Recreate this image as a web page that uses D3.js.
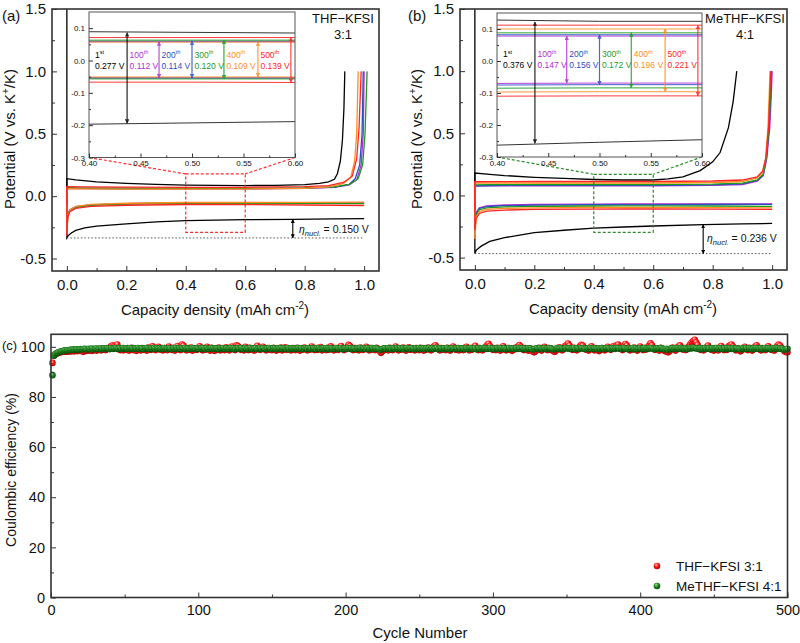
<!DOCTYPE html>
<html><head><meta charset="utf-8">
<script src="https://cdn.jsdelivr.net/npm/d3@7"></script>
<style>
body{margin:0;background:#fff;}
svg text{font-family:Arial,"Liberation Sans",sans-serif;fill:#111;}
</style></head><body>
<svg id="chart" width="800" height="643"></svg>
<script>
// ---------------- DATA ----------------
const cycleNames = ["1","100","200","300","400","500"];
const cycleSuffix = ["st","th","th","th","th","th"];
const cycleColors = ["#000000","#b52bd3","#2a4fc4","#1c9b1c","#ff8c1f","#ff2424"];

const capTicks = [0,0.2,0.4,0.6,0.8,1.0];
const capMinor = [0.1,0.3,0.5,0.7,0.9];
const potTicks = [-0.5,0,0.5,1.0,1.5];
const potMinor = [-0.25,0.25,0.75,1.25];
const insetXTicks = [0.40,0.45,0.50,0.55,0.60];
const insetXMinor = [0.425,0.475,0.525,0.575];
const insetYTicks = [-0.3,-0.2,-0.1,0.0,0.1];
const insetYMinor = [-0.25,-0.15,-0.05,0.05];

// panel (a) THF-KFSI 3:1 : charge (stripping, upper) and discharge (plating, lower) curves
const aCharge = [
 [[0,-0.18],[0,0.14],[0.03,0.13],[0.1,0.115],[0.2,0.102],[0.3,0.094],[0.4,0.089],[0.5,0.087],[0.6,0.085],[0.7,0.086],[0.8,0.092],[0.85,0.102],[0.88,0.115],[0.9,0.135],[0.91,0.18],[0.92,0.28],[0.927,0.45],[0.932,0.7],[0.935,1.0]],
 [[0,-0.05],[0,0.062],[0.05,0.06],[0.2,0.059],[0.4,0.058],[0.5,0.058],[0.6,0.058],[0.8,0.062],[0.9,0.07],[0.95,0.09],[0.975,0.13],[0.99,0.25],[0.997,0.5],[1.0,1.0]],
 [[0,-0.05],[0,0.064],[0.05,0.062],[0.2,0.061],[0.4,0.06],[0.5,0.06],[0.6,0.06],[0.8,0.064],[0.9,0.072],[0.95,0.095],[0.97,0.14],[0.985,0.25],[0.993,0.5],[0.997,1.0]],
 [[0,-0.05],[0,0.067],[0.05,0.065],[0.2,0.064],[0.4,0.063],[0.5,0.063],[0.6,0.063],[0.8,0.067],[0.9,0.075],[0.95,0.095],[0.98,0.14],[0.995,0.25],[1.003,0.5],[1.01,1.0]],
 [[0,-0.05],[0,0.06],[0.05,0.058],[0.2,0.057],[0.4,0.057],[0.5,0.057],[0.6,0.057],[0.8,0.062],[0.88,0.075],[0.93,0.1],[0.955,0.15],[0.968,0.28],[0.975,0.5],[0.98,1.0]],
 [[0,-0.06],[0,0.076],[0.05,0.074],[0.2,0.072],[0.4,0.071],[0.5,0.071],[0.6,0.071],[0.8,0.076],[0.88,0.085],[0.93,0.11],[0.96,0.16],[0.975,0.3],[0.983,0.55],[0.99,1.0]]
];
const aDischarge = [
 [[0,1.5],[0,-0.335],[0.005,-0.315],[0.015,-0.295],[0.03,-0.275],[0.06,-0.255],[0.1,-0.24],[0.2,-0.222],[0.3,-0.207],[0.4,-0.197],[0.5,-0.193],[0.6,-0.189],[0.76,-0.186],[0.9,-0.183],[1.0,-0.181]],
 [[0,0.062],[0,-0.25],[0.003,-0.15],[0.01,-0.11],[0.03,-0.085],[0.08,-0.07],[0.2,-0.06],[0.4,-0.054],[0.5,-0.054],[0.6,-0.054],[0.8,-0.054],[1.0,-0.055]],
 [[0,0.064],[0,-0.22],[0.003,-0.15],[0.01,-0.11],[0.03,-0.086],[0.08,-0.07],[0.2,-0.06],[0.4,-0.054],[0.5,-0.054],[0.6,-0.054],[0.8,-0.055],[1.0,-0.056]],
 [[0,0.067],[0,-0.28],[0.003,-0.16],[0.01,-0.115],[0.03,-0.09],[0.08,-0.073],[0.2,-0.063],[0.4,-0.057],[0.5,-0.057],[0.6,-0.057],[0.8,-0.058],[1.0,-0.06]],
 [[0,0.06],[0,-0.3],[0.003,-0.16],[0.01,-0.11],[0.03,-0.082],[0.08,-0.066],[0.2,-0.057],[0.4,-0.051],[0.5,-0.051],[0.6,-0.051],[0.8,-0.05],[1.0,-0.048]],
 [[0,0.076],[0,-0.32],[0.003,-0.17],[0.01,-0.125],[0.03,-0.098],[0.08,-0.082],[0.2,-0.073],[0.4,-0.067],[0.5,-0.067],[0.6,-0.068],[0.8,-0.071],[1.0,-0.075]]
];
// panel (b) MeTHF-KFSI 4:1
const bCharge = [
 [[0,-0.23],[0,0.18],[0.05,0.17],[0.1,0.16],[0.2,0.146],[0.3,0.137],[0.4,0.128],[0.5,0.124],[0.6,0.124],[0.65,0.133],[0.7,0.15],[0.758,0.2],[0.8,0.27],[0.825,0.345],[0.853,0.545],[0.869,0.757],[0.881,1.0]],
 [[0,-0.068],[0,0.075],[0.05,0.077],[0.2,0.078],[0.4,0.078],[0.5,0.078],[0.6,0.078],[0.8,0.081],[0.9,0.088],[0.95,0.115],[0.97,0.16],[0.982,0.3],[0.992,0.55],[0.997,0.8],[1.0,1.0]],
 [[0,-0.072],[0,0.078],[0.05,0.08],[0.2,0.082],[0.4,0.082],[0.5,0.082],[0.6,0.082],[0.8,0.085],[0.9,0.093],[0.95,0.12],[0.97,0.165],[0.981,0.3],[0.99,0.55],[0.995,0.8],[0.998,1.0]],
 [[0,-0.088],[0,0.085],[0.05,0.087],[0.2,0.088],[0.4,0.088],[0.5,0.088],[0.6,0.088],[0.8,0.091],[0.9,0.099],[0.95,0.125],[0.97,0.17],[0.98,0.3],[0.989,0.55],[0.994,0.8],[0.997,1.0]],
 [[0,-0.1],[0,0.1],[0.05,0.1],[0.2,0.1],[0.4,0.1],[0.5,0.1],[0.6,0.1],[0.8,0.104],[0.9,0.112],[0.95,0.14],[0.968,0.185],[0.978,0.3],[0.986,0.55],[0.99,0.8],[0.993,1.0]],
 [[0,-0.112],[0,0.11],[0.05,0.111],[0.2,0.112],[0.4,0.112],[0.5,0.112],[0.6,0.112],[0.8,0.116],[0.9,0.124],[0.95,0.15],[0.968,0.195],[0.979,0.3],[0.988,0.55],[0.992,0.8],[0.995,1.0]]
];
const bDischarge = [
 [[0,1.5],[0,-0.468],[0.005,-0.44],[0.02,-0.41],[0.05,-0.37],[0.1,-0.34],[0.2,-0.3],[0.3,-0.28],[0.4,-0.263],[0.5,-0.254],[0.6,-0.246],[0.77,-0.235],[0.9,-0.229],[1.0,-0.225]],
 [[0,0.075],[0,-0.2],[0.004,-0.14],[0.015,-0.1],[0.04,-0.085],[0.1,-0.077],[0.2,-0.073],[0.4,-0.07],[0.5,-0.069],[0.6,-0.069],[0.8,-0.068],[1.0,-0.068]],
 [[0,0.078],[0,-0.22],[0.004,-0.15],[0.015,-0.105],[0.04,-0.09],[0.1,-0.082],[0.2,-0.078],[0.4,-0.075],[0.5,-0.074],[0.6,-0.074],[0.8,-0.073],[1.0,-0.072]],
 [[0,0.085],[0,-0.25],[0.004,-0.16],[0.015,-0.115],[0.04,-0.1],[0.1,-0.092],[0.2,-0.088],[0.4,-0.085],[0.5,-0.084],[0.6,-0.084],[0.8,-0.085],[1.0,-0.088]],
 [[0,0.1],[0,-0.35],[0.004,-0.18],[0.015,-0.13],[0.04,-0.113],[0.1,-0.104],[0.2,-0.1],[0.4,-0.097],[0.5,-0.096],[0.6,-0.096],[0.8,-0.098],[1.0,-0.1]],
 [[0,0.11],[0,-0.28],[0.004,-0.19],[0.015,-0.145],[0.04,-0.127],[0.1,-0.118],[0.2,-0.113],[0.4,-0.11],[0.5,-0.109],[0.6,-0.109],[0.8,-0.11],[1.0,-0.112]]
];
const arrowX = [0.437,0.468,0.5,0.531,0.564,0.596];
const aArrowTop = [0.086,0.058,0.06,0.063,0.057,0.071];
const aArrowBot = [-0.194,-0.054,-0.054,-0.057,-0.051,-0.068];
const bArrowTop = [0.122,0.078,0.082,0.088,0.1,0.112];
const bArrowBot = [-0.257,-0.069,-0.074,-0.084,-0.096,-0.109];
const aOverpot = ["0.277 V","0.112 V","0.114 V","0.120 V","0.109 V","0.139 V"];
const bOverpot = ["0.376 V","0.147 V","0.156 V","0.172 V","0.196 V","0.221 V"];

// panel (c) Coulombic efficiency, cycles 1..500
const ceTHF = [
93.6,96.5,97.0,97.3,97.6,97.8,97.9,98.0,98.1,98.0,98.2,98.1,98.3,98.2,98.4,98.2,98.5,98.3,98.4,98.6,98.3,98.0,98.7,98.4,98.6,
98.5,98.8,98.4,98.7,98.9,98.5,98.8,99.0,98.6,98.9,99.2,98.7,99.0,99.4,99.8,100.3,100.6,100.2,99.9,100.9,99.1,98.7,99.3,98.6,99.4,
98.8,99.5,98.5,99.2,99.6,98.7,99.1,98.4,99.3,99.0,98.6,99.5,98.9,99.2,98.5,99.7,99.1,98.8,100.2,99.3,98.7,99.4,100.0,98.9,99.2,
98.6,99.5,99.0,98.7,100.1,99.3,98.8,99.6,98.5,99.2,100.3,99.0,98.7,100.9,100.4,99.1,98.6,99.5,98.9,99.7,98.5,99.3,99.0,98.8,99.6,
100.2,99.1,98.6,99.4,98.9,100.0,99.2,98.5,99.6,98.8,98.4,99.3,98.9,99.7,98.6,99.4,99.0,98.7,99.8,99.2,98.6,99.5,100.1,99.0,98.7,
100.6,100.2,99.3,98.8,99.5,98.6,100.0,99.2,98.7,99.6,98.9,99.3,98.5,99.7,100.4,99.1,98.8,99.4,100.0,99.2,98.6,99.5,98.9,99.3,98.7,
99.6,99.0,98.5,99.4,98.9,99.7,98.6,99.2,99.8,98.8,99.4,99.0,98.6,99.5,99.1,98.7,99.6,99.2,98.5,99.4,98.9,99.7,99.1,98.6,99.3,
98.9,100.1,99.2,98.7,99.5,98.8,99.3,99.9,98.6,99.4,99.0,98.7,99.6,98.9,100.2,99.3,98.6,99.5,99.0,98.8,99.7,100.3,99.1,98.7,99.4,
99.8,100.8,100.3,99.2,98.7,99.5,98.9,99.3,98.6,99.7,99.1,98.8,99.4,100.0,99.2,98.6,99.5,98.9,99.3,98.7,99.6,98.9,98.4,97.6,98.2,
98.8,99.4,99.0,98.6,99.6,99.1,98.7,99.5,100.1,99.2,98.6,99.4,98.9,99.7,99.0,98.5,99.3,99.8,98.8,99.4,99.0,98.6,99.5,99.1,98.7,
99.6,99.0,98.5,99.3,98.9,99.7,99.2,98.6,99.4,100.2,100.6,99.8,99.0,98.6,99.5,98.9,99.3,98.7,99.6,99.1,98.5,99.4,100.1,99.2,98.8,
99.5,98.6,99.3,99.0,98.7,99.6,100.0,99.2,98.6,99.4,98.9,99.8,100.4,99.1,98.7,99.5,99.0,98.6,99.4,99.9,100.6,101.2,100.3,99.3,98.8,
99.4,98.7,99.6,99.1,98.5,99.3,100.2,99.0,98.6,99.5,98.9,99.3,98.4,98.9,99.6,99.2,100.1,100.7,100.0,99.1,98.7,99.5,98.9,98.5,99.4,
98.6,98.2,97.8,98.3,99.1,99.6,98.9,98.5,99.4,100.0,99.2,98.7,99.5,98.8,99.2,98.3,98.0,98.6,99.3,99.8,99.0,98.6,99.5,100.3,100.7,
101.3,100.5,99.4,98.8,99.6,99.0,98.6,99.4,100.2,100.8,100.5,99.5,98.9,99.3,98.5,99.7,100.2,99.1,98.6,99.4,99.0,98.3,98.7,99.5,99.1,
98.6,99.4,100.0,99.3,98.8,99.6,100.3,99.9,100.6,100.9,99.8,99.2,98.7,100.4,101.1,100.5,99.3,98.6,99.4,98.9,99.7,99.2,98.5,99.4,100.1,
99.3,98.7,99.5,98.9,99.8,100.5,101.4,100.6,99.5,98.8,99.4,99.0,98.5,99.6,99.1,98.6,98.2,98.4,97.8,98.3,99.2,99.7,99.0,98.5,99.4,
100.1,100.6,99.6,98.9,99.5,98.7,99.3,100.2,101.0,101.7,102.3,102.8,101.8,100.7,99.6,98.8,99.4,98.6,99.2,99.8,100.5,99.6,98.9,99.3,98.5,
99.5,99.0,98.6,99.7,100.3,99.3,98.7,99.5,98.8,100.2,100.6,100.9,100.1,99.2,98.6,99.4,98.9,98.2,98.6,99.5,100.0,99.2,98.7,99.6,99.1,
98.5,99.4,100.1,100.6,99.8,99.0,98.6,99.5,99.2,98.7,99.6,100.2,99.4,98.8,99.3,98.5,99.5,100.3,100.9,100.4,99.5,98.9,98.2,97.9,97.8
];
const ceMeTHF = [
88.7,96.4,97.1,97.5,97.8,98.0,98.2,98.3,98.5,98.6,98.6,98.7,98.8,98.8,98.9,98.9,99.0,99.0,98.9,99.1,99.0,99.1,99.2,99.0,99.1,
99.2,99.1,99.3,99.0,99.2,99.3,99.1,99.2,99.4,99.1,99.3,99.2,99.4,99.3,99.1,99.4,99.2,99.3,99.5,99.2,99.3,99.4,99.2,99.5,99.3,
99.4,99.2,99.3,99.5,99.3,99.2,99.4,99.3,99.5,99.2,99.4,99.3,99.1,99.4,99.5,99.3,99.2,99.4,99.3,99.5,99.2,99.4,99.3,99.4,99.2,
99.3,99.5,99.3,99.2,99.4,99.3,99.1,99.4,99.3,99.5,99.2,99.4,99.3,99.4,99.2,99.5,99.3,99.4,99.2,99.3,99.5,99.3,99.2,99.4,99.3,
99.2,99.4,99.5,99.3,99.1,99.4,99.2,99.3,99.5,99.3,99.2,99.4,99.3,99.1,99.4,99.3,99.5,99.2,99.4,99.3,99.2,99.5,99.3,99.4,99.1,
99.3,99.4,99.2,99.5,99.3,99.1,99.4,99.3,99.2,99.5,99.4,99.2,99.3,99.4,99.1,99.3,99.5,99.2,99.4,99.3,99.2,99.4,99.5,99.3,99.2,
99.4,99.3,99.1,99.4,99.2,99.5,99.3,99.4,99.2,99.3,99.5,99.1,99.4,99.3,99.2,99.4,99.3,99.5,99.2,99.4,99.1,99.3,99.4,99.2,99.5,
99.3,99.2,99.4,99.3,99.1,99.5,99.4,99.2,99.3,99.4,99.2,99.5,99.3,99.1,99.4,99.3,99.2,99.4,99.5,99.3,99.2,99.4,99.1,99.3,99.4,
99.2,99.5,99.3,99.4,99.2,99.3,99.1,99.4,99.3,99.5,99.2,99.4,99.3,99.2,99.4,99.1,99.3,99.5,99.2,99.4,99.3,99.2,99.0,98.9,99.2,
99.3,99.4,99.2,99.5,99.3,99.1,99.4,99.3,99.2,99.5,99.3,99.4,99.2,99.3,99.1,99.4,99.5,99.2,99.3,99.4,99.2,99.1,99.4,99.3,99.5,
99.2,99.4,99.3,99.1,99.4,99.2,99.5,99.3,99.4,99.2,99.3,99.5,99.1,99.4,99.3,99.2,99.4,99.3,99.5,99.2,99.1,99.4,99.3,99.2,99.4,
99.3,99.5,99.2,99.4,99.3,99.1,99.4,99.2,99.3,99.5,99.4,99.2,99.3,99.1,99.4,99.3,99.2,99.5,99.3,99.4,99.2,99.3,99.5,99.2,99.4,
99.1,99.3,99.4,99.2,99.5,99.3,99.2,99.4,99.1,99.3,99.5,99.2,99.4,99.3,99.1,99.4,99.2,99.5,99.3,99.4,99.2,99.3,99.1,99.4,99.3,
99.2,99.0,99.1,99.3,99.4,99.2,99.5,99.3,99.1,99.4,99.2,99.3,99.5,99.4,99.2,99.0,99.1,99.3,99.4,99.2,99.5,99.3,99.2,99.4,99.5,
99.3,99.4,99.2,99.3,99.5,99.1,99.4,99.3,99.2,99.5,99.4,99.2,99.3,99.1,99.4,99.5,99.3,99.2,99.4,99.3,99.1,99.4,99.2,99.5,99.3,
99.2,99.4,99.5,99.3,99.1,99.4,99.3,99.2,99.5,99.4,99.3,99.2,99.4,99.5,99.3,99.2,99.1,99.4,99.3,99.5,99.2,99.4,99.1,99.3,99.4,
99.2,99.3,99.5,99.2,99.4,99.3,99.5,99.4,99.2,99.1,99.3,99.4,99.2,99.5,99.3,99.1,99.0,99.2,98.9,99.1,99.3,99.4,99.2,99.5,99.3,
99.4,99.2,99.5,99.3,99.2,99.4,99.1,99.3,99.5,99.4,99.6,99.5,99.4,99.3,99.2,99.4,99.1,99.3,99.5,99.2,99.4,99.3,99.1,99.4,99.2,
99.3,99.5,99.2,99.4,99.3,99.1,99.4,99.2,99.5,99.3,99.4,99.2,99.3,99.1,99.4,99.3,99.2,99.0,99.2,99.4,99.3,99.5,99.2,99.4,99.3,
99.1,99.4,99.2,99.5,99.3,99.2,99.4,99.1,99.3,99.5,99.2,99.4,99.3,99.1,99.4,99.2,99.5,99.3,99.4,99.2,99.3,99.1,98.9,99.0,99.2
];
const cycleTicks = [0,100,200,300,400,500];
const cycleMinor = [50,150,250,350,450];
const ceTicks = [0,20,40,60,80,100];
const ceMinor = [10,30,50,70,90];
const ceSeriesNames = ["THF\u2212KFSI 3:1","MeTHF\u2212KFSI 4:1"];

// ---------------- DRAWING ----------------
const svg = d3.select("#chart");
const defs = svg.append("defs");
const FONT = 'Arial,"Liberation Sans",sans-serif';

function sphereGrad(id, light, mid, dark){
  const g = defs.append("radialGradient").attr("id",id)
    .attr("cx","45%").attr("cy","40%").attr("r","60%").attr("fx","35%").attr("fy","30%");
  g.append("stop").attr("offset","0%").attr("stop-color",light);
  g.append("stop").attr("offset","50%").attr("stop-color",mid);
  g.append("stop").attr("offset","100%").attr("stop-color",dark);
}
sphereGrad("gRed","#ffd6d6","#ff1a1a","#b00000");
sphereGrad("gGreen","#b9e0b9","#1f8a1f","#0a4a0a");

function arrowMarker(color){
  const id = "m"+color.replace("#","");
  if (defs.select("#"+id).empty()) {
    defs.append("marker").attr("id",id).attr("viewBox","0 0 10 10").attr("refX",9).attr("refY",5)
      .attr("markerWidth",3.6).attr("markerHeight",3.6).attr("orient","auto-start-reverse")
      .append("path").attr("d","M0,0L10,5L0,10z").attr("fill",color);
  }
  return id;
}

function styleAxis(sel, size){
  sel.select(".domain").remove();
  sel.attr("font-family",FONT).attr("font-size",size);
  sel.selectAll(".tick line").attr("stroke","#333").attr("stroke-width",1);
  sel.selectAll(".tick text").attr("fill","#111");
}

function drawVoltagePanel(P){
  const g = svg.append("g");
  const x = d3.scaleLinear().domain([-0.05,1.05]).range([P.left,P.right]);
  const y = d3.scaleLinear().domain([-0.6,1.5]).range([P.bottom,P.top]);
  const clipId = P.id+"clip";
  defs.append("clipPath").attr("id",clipId).append("rect")
    .attr("x",P.left).attr("y",P.top).attr("width",P.right-P.left).attr("height",P.bottom-P.top);
  const line = d3.line().x(d=>x(d[0])).y(d=>y(d[1]));
  const cg = g.append("g").attr("clip-path",`url(#${clipId})`);
  cycleColors.forEach((c,i)=>{
    cg.append("path").attr("d",line(P.discharge[i])).attr("fill","none").attr("stroke",c).attr("stroke-width",1.3);
    cg.append("path").attr("d",line(P.charge[i])).attr("fill","none").attr("stroke",c).attr("stroke-width",1.3);
  });
  // nucleation baseline (dotted)
  g.append("line").attr("x1",x(0)).attr("x2",x(1.0)).attr("y1",y(P.nucBase)).attr("y2",y(P.nucBase))
    .attr("stroke","#555").attr("stroke-width",1).attr("stroke-dasharray","1.5,2");
  // eta arrow
  const mk = arrowMarker("#000000");
  g.append("line").attr("x1",x(P.etaX)).attr("x2",x(P.etaX)).attr("y1",y(P.etaTop)).attr("y2",y(P.nucBase))
    .attr("stroke","#000").attr("stroke-width",1.1)
    .attr("marker-start",`url(#${mk})`).attr("marker-end",`url(#${mk})`);
  const et = g.append("text").attr("x",P.etaTextX).attr("y",P.etaTextY).attr("font-size",10.5);
  et.append("tspan").attr("font-style","italic").text("\u03b7");
  et.append("tspan").attr("font-style","italic").attr("font-size",7.5).attr("dy",3).text("nucl.");
  et.append("tspan").attr("dy",-3).text(" = "+P.etaText);
  // dashed zoom box
  g.append("rect").attr("x",x(0.4)).attr("y",y(P.boxTop)).attr("width",x(0.6)-x(0.4)).attr("height",y(P.boxBot)-y(P.boxTop))
    .attr("fill","none").attr("stroke",P.zoomColor).attr("stroke-width",1.2).attr("stroke-dasharray","3,2");
  const I = P.inset;
  g.append("line").attr("x1",I.left).attr("y1",I.bottom).attr("x2",x(0.4)).attr("y2",y(P.boxTop))
    .attr("stroke",P.zoomColor).attr("stroke-width",1.2).attr("stroke-dasharray","3,2");
  g.append("line").attr("x1",I.right).attr("y1",I.bottom).attr("x2",x(0.6)).attr("y2",y(P.boxTop))
    .attr("stroke",P.zoomColor).attr("stroke-width",1.2).attr("stroke-dasharray","3,2");

  // ---- inset ----
  const ix = d3.scaleLinear().domain([0.4,0.6]).range([I.left,I.right]);
  const iy = d3.scaleLinear().domain([-0.3,0.15]).range([I.bottom,I.top]);
  g.append("rect").attr("x",I.left).attr("y",I.top).attr("width",I.right-I.left).attr("height",I.bottom-I.top).attr("fill","#fff");
  const iclip = P.id+"iclip";
  defs.append("clipPath").attr("id",iclip).append("rect")
    .attr("x",I.left).attr("y",I.top).attr("width",I.right-I.left).attr("height",I.bottom-I.top);
  const iline = d3.line().x(d=>ix(d[0])).y(d=>iy(d[1]));
  const icg = g.append("g").attr("clip-path",`url(#${iclip})`);
  cycleColors.forEach((c,i)=>{
    icg.append("path").attr("d",iline(P.discharge[i])).attr("fill","none").attr("stroke",c).attr("stroke-width",1).attr("opacity",i===0?0.8:0.9);
    icg.append("path").attr("d",iline(P.charge[i])).attr("fill","none").attr("stroke",c).attr("stroke-width",1).attr("opacity",i===0?0.8:0.9);
  });
  cycleColors.forEach((c,i)=>{
    const m = arrowMarker(c);
    icg.append("line").attr("x1",ix(arrowX[i])).attr("x2",ix(arrowX[i]))
      .attr("y1",iy(P.arrowTop[i])).attr("y2",iy(P.arrowBot[i]))
      .attr("stroke",c).attr("stroke-width",1.2).attr("opacity",0.85)
      .attr("marker-start",`url(#${m})`).attr("marker-end",`url(#${m})`);
    const lx = i===0 ? I.left+6 : ix(arrowX[i-1])+2.5;
    const t1 = g.append("text").attr("x",lx).attr("y",iy(0)+P.lab1dy).attr("font-size",8.5).style("fill",c);
    t1.append("tspan").text(cycleNames[i]);
    t1.append("tspan").attr("dy",-3.5).attr("font-size",5.5).text(cycleSuffix[i]);
    g.append("text").attr("x",lx).attr("y",iy(0)+P.lab2dy).attr("font-size",8.5).style("fill",c).text(P.overpot[i]);
  });
  g.append("rect").attr("x",I.left).attr("y",I.top).attr("width",I.right-I.left).attr("height",I.bottom-I.top)
    .attr("fill","none").attr("stroke","#555").attr("stroke-width",1);
  g.append("g").attr("transform",`translate(0,${I.bottom})`)
    .call(d3.axisBottom(ix).tickValues(insetXTicks).tickSizeInner(-4).tickSizeOuter(0).tickPadding(3).tickFormat(d=>d.toFixed(2)))
    .call(s=>styleAxis(s,8));
  g.append("g").attr("transform",`translate(0,${I.bottom})`)
    .call(d3.axisBottom(ix).tickValues(insetXMinor).tickSizeInner(-2).tickSizeOuter(0).tickFormat(""))
    .call(s=>styleAxis(s,8));
  g.append("g").attr("transform",`translate(${I.left},0)`)
    .call(d3.axisLeft(iy).tickValues(insetYTicks).tickSizeInner(-4).tickSizeOuter(0).tickPadding(4).tickFormat(d=>d.toFixed(1)))
    .call(s=>styleAxis(s,8));
  g.append("g").attr("transform",`translate(${I.left},0)`)
    .call(d3.axisLeft(iy).tickValues(insetYMinor).tickSizeInner(-2).tickSizeOuter(0).tickFormat(""))
    .call(s=>styleAxis(s,8));

  // ---- frame and main axes ----
  g.append("rect").attr("x",P.left).attr("y",P.top).attr("width",P.right-P.left).attr("height",P.bottom-P.top)
    .attr("fill","none").attr("stroke","#333").attr("stroke-width",1.6);
  g.append("g").attr("transform",`translate(0,${P.bottom})`)
    .call(d3.axisBottom(x).tickValues(capTicks).tickSizeInner(-5).tickSizeOuter(0).tickPadding(8).tickFormat(d=>d.toFixed(1)))
    .call(s=>styleAxis(s,15));
  g.append("g").attr("transform",`translate(0,${P.bottom})`)
    .call(d3.axisBottom(x).tickValues(capMinor).tickSizeInner(-3).tickSizeOuter(0).tickFormat(""))
    .call(s=>styleAxis(s,15));
  g.append("g").attr("transform",`translate(${P.left},0)`)
    .call(d3.axisLeft(y).tickValues(potTicks).tickSizeInner(-5).tickSizeOuter(0).tickPadding(6).tickFormat(d=>d.toFixed(1)))
    .call(s=>styleAxis(s,15));
  g.append("g").attr("transform",`translate(${P.left},0)`)
    .call(d3.axisLeft(y).tickValues(potMinor).tickSizeInner(-3).tickSizeOuter(0).tickFormat(""))
    .call(s=>styleAxis(s,15));

  // axis titles
  const xt = g.append("text").attr("x",P.xTitleX).attr("y",P.xTitleY).attr("text-anchor","middle").attr("font-size",15);
  xt.append("tspan").text("Capacity density (mAh cm");
  xt.append("tspan").attr("dy",-6).attr("font-size",10).text("-2");
  xt.append("tspan").attr("dy",6).text(")");
  const yt = g.append("text").attr("transform",`translate(${P.yTitleX},${P.yTitleY}) rotate(-90)`).attr("text-anchor","middle").attr("font-size",15);
  yt.append("tspan").text("Potential (V vs. K");
  yt.append("tspan").attr("dy",-6).attr("font-size",10).text("+");
  yt.append("tspan").attr("dy",6).text("/K)");
  g.append("text").attr("x",P.tagX).attr("y",21).attr("font-size",15).text(P.tag);
  g.append("text").attr("x",P.nameX).attr("y",23).attr("text-anchor","middle").attr("font-size",13).text(P.name1);
  g.append("text").attr("x",P.nameX).attr("y",39).attr("text-anchor","middle").attr("font-size",13).text(P.name2);
}

drawVoltagePanel({
  id:"a", left:52, right:379, top:9, bottom:271,
  charge:aCharge, discharge:aDischarge, arrowTop:aArrowTop, arrowBot:aArrowBot, overpot:aOverpot,
  nucBase:-0.335, etaX:0.76, etaTop:-0.186, etaText:"0.150 V", etaTextX:299, etaTextY:233,
  boxTop:0.178, boxBot:-0.29, zoomColor:"#ff2a2a",
  inset:{left:89,right:295,top:12,bottom:157.5}, lab1dy:-3, lab2dy:8,
  xTitleX:215, xTitleY:315, yTitleX:15, yTitleY:139, tag:"(a)", tagX:2,
  name1:"THF\u2212KFSI", name2:"3:1", nameX:343
});
drawVoltagePanel({
  id:"b", left:460, right:787, top:9, bottom:270,
  charge:bCharge, discharge:bDischarge, arrowTop:bArrowTop, arrowBot:bArrowBot, overpot:bOverpot,
  nucBase:-0.468, etaX:0.768, etaTop:-0.235, etaText:"0.236 V", etaTextX:707, etaTextY:242,
  boxTop:0.17, boxBot:-0.297, zoomColor:"#2a8a2a",
  inset:{left:497,right:702,top:13,bottom:157}, lab1dy:-4, lab2dy:7,
  xTitleX:623, xTitleY:314, yTitleX:422, yTitleY:139, tag:"(b)", tagX:408,
  name1:"MeTHF\u2212KFSI", name2:"4:1", nameX:745
});

// ---------------- panel (c) ----------------
(function(){
  const L=51, R=787.5, T=334.3, B=597.5;
  const g = svg.append("g");
  const x = d3.scaleLinear().domain([0,500]).range([L,R]);
  const y = d3.scaleLinear().domain([0,105]).range([B,T]);
  const series = [
    {vals:ceTHF, fill:"url(#gRed)"},
    {vals:ceMeTHF, fill:"url(#gGreen)"}
  ];
  series.forEach(s=>{
    g.append("g").selectAll("circle").data(s.vals).join("circle")
      .attr("cx",(d,i)=>x(i+1)).attr("cy",d=>y(d)).attr("r",3.3).attr("fill",s.fill);
  });
  g.append("rect").attr("x",L).attr("y",T).attr("width",R-L).attr("height",B-T)
    .attr("fill","none").attr("stroke","#333").attr("stroke-width",1.6);
  g.append("g").attr("transform",`translate(0,${B})`)
    .call(d3.axisBottom(x).tickValues(cycleTicks).tickSizeInner(-5).tickSizeOuter(0).tickPadding(7).tickFormat(d3.format("d")))
    .call(s=>styleAxis(s,14.5));
  g.append("g").attr("transform",`translate(0,${B})`)
    .call(d3.axisBottom(x).tickValues(cycleMinor).tickSizeInner(-3).tickSizeOuter(0).tickFormat(""))
    .call(s=>styleAxis(s,14.5));
  g.append("g").attr("transform",`translate(${L},0)`)
    .call(d3.axisLeft(y).tickValues(ceTicks).tickSizeInner(-5).tickSizeOuter(0).tickPadding(6).tickFormat(d3.format("d")))
    .call(s=>styleAxis(s,14.5));
  g.append("g").attr("transform",`translate(${L},0)`)
    .call(d3.axisLeft(y).tickValues(ceMinor).tickSizeInner(-3).tickSizeOuter(0).tickFormat(""))
    .call(s=>styleAxis(s,14.5));
  g.append("text").attr("x",420).attr("y",638).attr("text-anchor","middle").attr("font-size",15).text("Cycle Number");
  g.append("text").attr("transform","translate(16,470) rotate(-90)").attr("text-anchor","middle").attr("font-size",14).text("Coulombic efficiency (%)");
  g.append("text").attr("x",2).attr("y",350).attr("font-size",13).text("(c)");
  // legend
  const lg = g.append("g");
  [["url(#gRed)",566],["url(#gGreen)",586]].forEach((d,i)=>{
    lg.append("circle").attr("cx",657).attr("cy",d[1]).attr("r",3.3).attr("fill",d[0]);
    lg.append("text").attr("x",676).attr("y",d[1]+5).attr("font-size",13.5).text(ceSeriesNames[i]);
  });
})();
</script>
</body></html>
